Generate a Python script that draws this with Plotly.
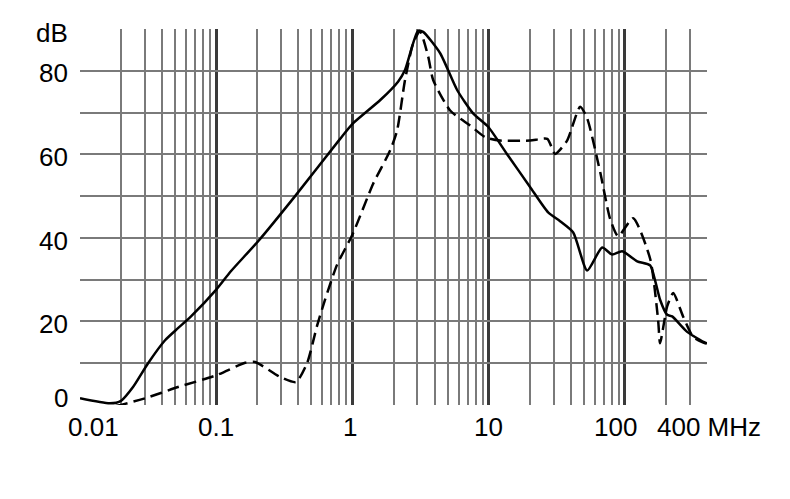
import numpy as np
import plotly.graph_objects as go

# Solid curve (frequency in MHz, level in dB)
solid_f = [0.01, 0.0166, 0.02, 0.0245, 0.0316, 0.0421, 0.0524, 0.0653, 0.1, 0.128,
           0.203, 0.379, 0.811, 1.0, 1.6, 2.16, 2.43, 3.03, 3.3, 4.4, 5.86, 7.68,
           9.9, 13.6, 20.1, 27.3, 33.4, 41.7, 52.8, 68.0, 80.5, 95.3, 123, 153,
           167, 181, 204, 222, 286, 388, 400]
solid_db = [1.6, 0.4, 1.0, 4.3, 10.0, 15.5, 18.4, 21.2, 27.6, 32.0,
            39.2, 50.0, 63.7, 67.3, 73.0, 77.4, 80.2, 89.6, 89.3, 84.2, 75.4, 69.8,
            66.6, 60.1, 52.2, 46.1, 44.0, 41.3, 32.2, 37.7, 36.0, 36.8, 34.4, 33.4,
            29.6, 25.2, 21.6, 21.2, 17.5, 14.9, 14.8]

# Dashed curve
dash_f = [0.01, 0.0166, 0.030, 0.0524, 0.1, 0.163, 0.193, 0.294, 0.385, 0.464,
          0.55, 0.629, 0.771, 1.0, 1.416, 1.888, 2.125, 2.43, 2.79, 3.13, 3.59,
          3.91, 5.21, 7.3, 9.41, 12.1, 20.1, 26.9, 30.7, 37.6, 46.9, 52.8, 65.8,
          77.9, 89.1, 114.8, 153, 175, 181, 204, 226, 267, 317, 388, 400]
dash_db = [-0.3, -0.5, 1.6, 4.3, 7.1, 10.1, 10.3, 6.7, 5.5, 10.0,
           19.0, 25.2, 33.6, 40.8, 52.9, 60.9, 65.7, 77.8, 86.6, 89.4, 83.5,
           77.8, 70.5, 66.9, 64.1, 63.3, 63.3, 63.7, 60.1, 63.3, 71.4, 68.6, 55.7,
           44.5, 40.4, 44.7, 35.0, 20.4, 14.8, 23.6, 26.8, 21.2, 16.3, 14.8, 14.8]

x_major = [0.01, 0.1, 1, 10, 100]
x_minor = [m * d for d in [0.01, 0.1, 1, 10, 100] for m in range(2, 10) if m * d <= 400]
y_grid = list(range(0, 91, 10))

x_labels = ["0.01", "0.1", "1", "10", "100", "400 MHz"]
x_label_vals = [0.01, 0.1, 1, 10, 100, 400]
x_label_shift = [13, 0, -2, 0, -9, 2]
y_labels = ["0", "20", "40", "60", "80", "dB"]
y_label_vals = [0, 20, 40, 60, 80, 90]
y_label_shift = [7, -3, -3, -3, -2, -4]

FONT = "Liberation Sans, Arial, sans-serif"
FS = 26

fig = go.Figure()
fig.add_trace(go.Scatter(x=dash_f, y=dash_db, mode="lines",
                         line=dict(color="black", width=2.5, dash="12px,6px",
                                   shape="spline", smoothing=0.6),
                         showlegend=False, hoverinfo="skip"))
fig.add_trace(go.Scatter(x=solid_f, y=solid_db, mode="lines",
                         line=dict(color="black", width=2.5, shape="spline", smoothing=0.6),
                         showlegend=False, hoverinfo="skip"))

fig.update_layout(
    width=790, height=499,
    margin=dict(l=72, r=91, t=21, b=102),
    paper_bgcolor="white", plot_bgcolor="white",
    font=dict(family=FONT, size=FS, color="black"),
    xaxis=dict(type="log", range=[np.log10(0.01), np.log10(400)],
               tickmode="array", tickvals=x_major + [400], showticklabels=False,
               showgrid=True, gridcolor="#3a3a3a", gridwidth=2.5,
               zeroline=False, showline=False, ticks="",
               minor=dict(tickmode="array", tickvals=x_minor, showgrid=True,
                          gridcolor="#7a7a7a", gridwidth=1.6, ticks="")),
    yaxis=dict(range=[0, 90], tickmode="array", tickvals=y_grid, showticklabels=False,
               showgrid=True, gridcolor="#7a7a7a", gridwidth=1.8,
               zeroline=False, showline=False, ticks=""),
)

for t, v, s in zip(x_labels, x_label_vals, x_label_shift):
    fig.add_annotation(x=np.log10(v), y=0, xref="x", yref="y", text=t,
                       showarrow=False, xanchor="center", yanchor="middle",
                       xshift=s, yshift=-22, font=dict(family=FONT, size=FS, color="black"))

for t, v, s in zip(y_labels, y_label_vals, y_label_shift):
    fig.add_annotation(x=0, y=v, xref="paper", yref="y", text=t,
                       showarrow=False, xanchor="right", yanchor="middle",
                       xshift=-10, yshift=s, font=dict(family=FONT, size=FS, color="black"))

fig.write_html("out.html")
